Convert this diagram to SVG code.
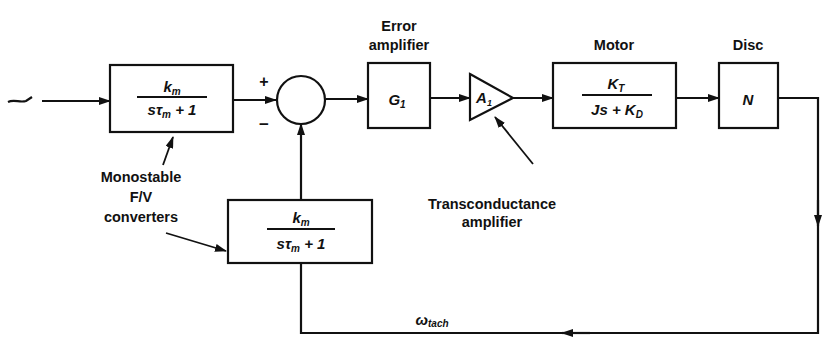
<svg xmlns="http://www.w3.org/2000/svg" width="825" height="342" viewBox="0 0 825 342">
<style>
.box{fill:#fff;stroke:#111;stroke-width:2.2}
.ln{fill:none;stroke:#111;stroke-width:2.2}
.thin{fill:none;stroke:#111;stroke-width:1.8}
.lbl{font-family:"Liberation Sans",Arial,sans-serif;font-weight:bold;font-size:14.5px;fill:#111;text-anchor:middle}
.math{font-family:"Liberation Sans",Arial,sans-serif;font-weight:bold;font-style:italic;font-size:15px;fill:#111;text-anchor:middle}
.sub{font-size:10px}
</style>
<defs>
<marker id="ah" viewBox="0 0 12 8" refX="11" refY="4" markerWidth="12" markerHeight="8" markerUnits="userSpaceOnUse" orient="auto">
<path d="M0,0 L12,4 L0,8 Z" fill="#111"/>
</marker>
</defs>
<rect width="825" height="342" fill="#fff"/>
<g id="connectors">
<path class="ln" d="M8,102 C14,99 20,103 26,101 L32,97"/>
<path class="ln" d="M42,101 L110,101" marker-end="url(#ah)"/>
<path class="ln" d="M233,100 L276,100" marker-end="url(#ah)"/>
<path class="ln" d="M326,99 L368,99" marker-end="url(#ah)"/>
<path class="ln" d="M430,98 L470,98" marker-end="url(#ah)"/>
<path class="ln" d="M513,98 L553,98" marker-end="url(#ah)"/>
<path class="ln" d="M676,98 L719,98" marker-end="url(#ah)"/>
<path class="ln" d="M778,98 L818,98 L818,333 L301,333 L301,263"/>
<path class="ln" d="M818,200 L818,226" marker-end="url(#ah)"/>
<path class="ln" d="M590,333 L562,333" marker-end="url(#ah)"/>
<path class="ln" d="M301,200 L301,124" marker-end="url(#ah)"/>
<path class="thin" d="M163,165 L173,137" marker-end="url(#ah)"/>
<path class="thin" d="M166,233 L226,251" marker-end="url(#ah)"/>
<path class="thin" d="M533,164 L495,117" marker-end="url(#ah)"/>
</g>
<g id="f2v-top">
<rect class="box" x="110" y="65" width="123" height="67"/>
<text class="math" x="172" y="92">k<tspan class="sub" dy="3">m</tspan></text>
<line class="thin" x1="137" y1="97" x2="207" y2="97"/>
<text class="math" x="172" y="115">sτ<tspan class="sub" dy="3">m</tspan><tspan dy="-3">  + 1</tspan></text>
</g>
<g id="sum">
<circle class="box" cx="301" cy="100" r="24"/>
<text class="lbl" x="264" y="87" style="font-size:16px">+</text>
<text class="lbl" x="264" y="130" style="font-size:17px">−</text>
</g>
<g id="error-amp">
<text class="lbl" x="399" y="31">Error</text>
<text class="lbl" x="399" y="50">amplifier</text>
<rect class="box" x="368" y="63" width="62" height="65"/>
<text class="math" x="397" y="105">G<tspan class="sub" dy="3">1</tspan></text>
</g>
<g id="transconductance">
<polygon class="box" points="470,74 513,98 470,120"/>
<text class="math" x="484" y="103">A<tspan class="sub" dy="3" style="font-size:9px">1</tspan></text>
<text class="lbl" x="492" y="209">Transconductance</text>
<text class="lbl" x="492" y="227">amplifier</text>
</g>
<g id="motor">
<text class="lbl" x="614" y="50">Motor</text>
<rect class="box" x="553" y="63" width="123" height="65"/>
<text class="math" x="616" y="89">K<tspan class="sub" dy="3">T</tspan></text>
<line class="thin" x1="582" y1="95" x2="652" y2="95"/>
<text class="math" x="617" y="115">Js + K<tspan class="sub" dy="3">D</tspan></text>
</g>
<g id="disc">
<text class="lbl" x="748" y="50">Disc</text>
<rect class="box" x="719" y="63" width="59" height="65"/>
<text class="math" x="748" y="105">N</text>
</g>
<g id="f2v-bottom">
<rect class="box" x="228" y="200" width="144" height="63"/>
<text class="math" x="301" y="223">k<tspan class="sub" dy="3">m</tspan></text>
<line class="thin" x1="267" y1="229" x2="335" y2="229"/>
<text class="math" x="301" y="249">sτ<tspan class="sub" dy="3">m</tspan><tspan dy="-3">  + 1</tspan></text>
</g>
<g id="f2v-label">
<text class="lbl" x="141" y="182">Monostable</text>
<text class="lbl" x="141" y="202">F/V</text>
<text class="lbl" x="141" y="222">converters</text>
</g>
<g id="omega">
<text class="math" x="432" y="325">ω<tspan class="sub" dy="2">tach</tspan></text>
</g>
</svg>
